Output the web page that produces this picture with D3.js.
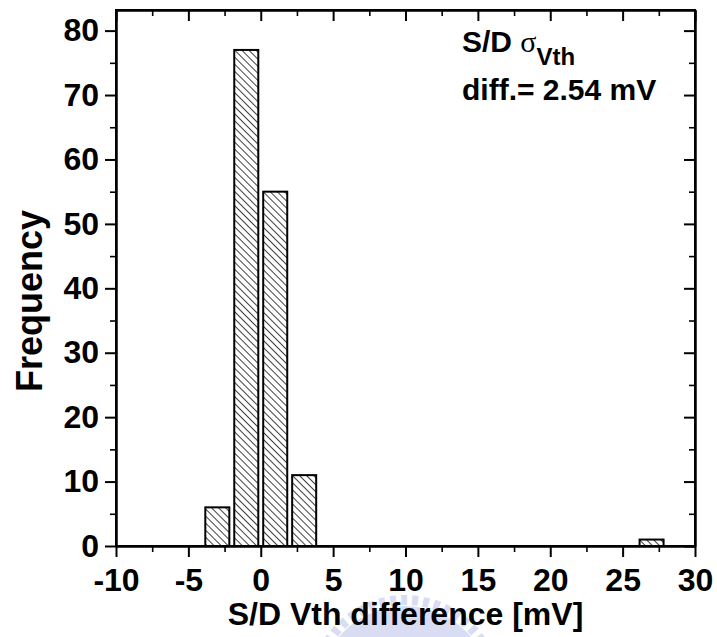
<!DOCTYPE html>
<html>
<head>
<meta charset="utf-8">
<script src="https://cdn.jsdelivr.net/npm/d3@7/dist/d3.min.js"></script>
<style>
  body { margin: 0; background: #fff; }
  svg { display: block; }
  .axis text { font-family: "Liberation Sans", Arial, sans-serif; font-weight: bold; font-size: 32px; fill: #000; }
  .axis path, .axis line { stroke: #000; stroke-width: 2px; }
  .minor line { stroke-width: 1.6px; }
</style>
</head>
<body>
<svg id="chart" width="717" height="637"></svg>
<script>
// bin centres (mV) and counts
const binCenters = [-3, -1, 1, 3, 27];
const frequencies = [6, 77, 55, 11, 1];
const binWidth = 2;

const xMajorTicks = [-10, -5, 0, 5, 10, 15, 20, 25, 30];
const xMinorTicks = [-7.5, -2.5, 2.5, 7.5, 12.5, 17.5, 22.5, 27.5];
const yMajorTicks = [0, 10, 20, 30, 40, 50, 60, 70, 80];
const yMinorTicks = [5, 15, 25, 35, 45, 55, 65, 75];

const svg = d3.select("#chart");
const plotLeft = 116, plotRight = 695, plotTop = 10, plotBottom = 546;

const x = d3.scaleLinear().domain([-10, 30]).range([plotLeft, plotRight]);
const y = d3.scaleLinear().domain([0, 83.2]).range([plotBottom, plotTop]);

// faint watermark behind the x title
const wm = svg.append("g").attr("opacity", 0.45);
wm.append("circle")
	.attr("cx", 405).attr("cy", 692).attr("r", 86)
	.attr("fill", "#a9b6e6");
wm.append("circle")
	.attr("cx", 405).attr("cy", 692).attr("r", 92)
	.attr("fill", "none")
	.attr("stroke", "#a9b6e6")
	.attr("stroke-width", 10)
	.attr("stroke-dasharray", "6 5");

// hatch pattern, lines running top-left to bottom-right
const defs = svg.append("defs");
defs.append("pattern")
	.attr("id", "hatch")
	.attr("patternUnits", "userSpaceOnUse")
	.attr("width", 5).attr("height", 5)
	.attr("patternTransform", "rotate(-45)")
	.append("line")
	.attr("x1", 0).attr("y1", 0).attr("x2", 0).attr("y2", 5)
	.attr("stroke", "#000").attr("stroke-width", 1.5);

// bars
const barW = binWidth * 0.83;
svg.append("g").selectAll("rect")
	.data(binCenters)
	.join("rect")
	.attr("x", (d) => x(d - barW / 2))
	.attr("width", (d) => x(d + barW / 2) - x(d - barW / 2))
	.attr("y", (d, i) => y(frequencies[i]))
	.attr("height", (d, i) => y(0) - y(frequencies[i]))
	.attr("fill", "url(#hatch)")
	.attr("stroke", "#000")
	.attr("stroke-width", 2);

// axes (plain hyphen for negatives, as in the original)
const fmt = (d) => String(d);
svg.append("g").attr("class", "axis").attr("transform", `translate(0,${plotBottom})`)
	.call(d3.axisBottom(x).tickValues(xMajorTicks).tickFormat(fmt).tickSize(11).tickPadding(11).tickSizeOuter(0));
svg.append("g").attr("class", "axis minor").attr("transform", `translate(0,${plotBottom})`)
	.call(d3.axisBottom(x).tickValues(xMinorTicks).tickFormat("").tickSize(6).tickSizeOuter(0));
svg.append("g").attr("class", "axis").attr("transform", `translate(0,${plotTop})`)
	.call(d3.axisBottom(x).tickValues(xMajorTicks).tickFormat("").tickSize(11).tickSizeOuter(0));
svg.append("g").attr("class", "axis minor").attr("transform", `translate(0,${plotTop})`)
	.call(d3.axisBottom(x).tickValues(xMinorTicks).tickFormat("").tickSize(6).tickSizeOuter(0));

svg.append("g").attr("class", "axis").attr("transform", `translate(${plotLeft},0)`)
	.call(d3.axisLeft(y).tickValues(yMajorTicks).tickFormat(fmt).tickSize(11).tickPadding(6).tickSizeOuter(0));
svg.append("g").attr("class", "axis minor").attr("transform", `translate(${plotLeft},0)`)
	.call(d3.axisLeft(y).tickValues(yMinorTicks).tickFormat("").tickSize(6).tickSizeOuter(0));
svg.append("g").attr("class", "axis").attr("transform", `translate(${plotRight},0)`)
	.call(d3.axisLeft(y).tickValues(yMajorTicks).tickFormat("").tickSize(11).tickSizeOuter(0));
svg.append("g").attr("class", "axis minor").attr("transform", `translate(${plotRight},0)`)
	.call(d3.axisLeft(y).tickValues(yMinorTicks).tickFormat("").tickSize(6).tickSizeOuter(0));

// frame
svg.append("rect")
	.attr("x", plotLeft).attr("y", plotTop)
	.attr("width", plotRight - plotLeft).attr("height", plotBottom - plotTop)
	.attr("fill", "none").attr("stroke", "#000").attr("stroke-width", 2);

// titles
const font = "'Liberation Sans', Arial, sans-serif";
svg.append("text")
	.attr("x", (plotLeft + plotRight) / 2).attr("y", 625)
	.attr("text-anchor", "middle")
	.style("font-family", font).style("font-weight", "bold").style("font-size", "32px")
	.text("S/D Vth difference [mV]");

svg.append("text")
	.attr("transform", "translate(42,301) rotate(-90)")
	.attr("text-anchor", "middle")
	.style("font-family", font).style("font-weight", "bold").style("font-size", "36px")
	.text("Frequency");

// annotation
const ann = svg.append("text")
	.attr("x", 462).attr("y", 52)
	.style("font-family", font).style("font-weight", "bold").style("font-size", "30px");
ann.append("tspan").text("S/D ");
ann.append("tspan").style("font-family", "'Liberation Serif', serif").style("font-weight", "normal").text("σ");
ann.append("tspan").attr("dy", 13).style("font-size", "24px").text("Vth");

svg.append("text")
	.attr("x", 462).attr("y", 100)
	.style("font-family", font).style("font-weight", "bold").style("font-size", "30px")
	.text("diff.= 2.54 mV");
</script>
</body>
</html>
